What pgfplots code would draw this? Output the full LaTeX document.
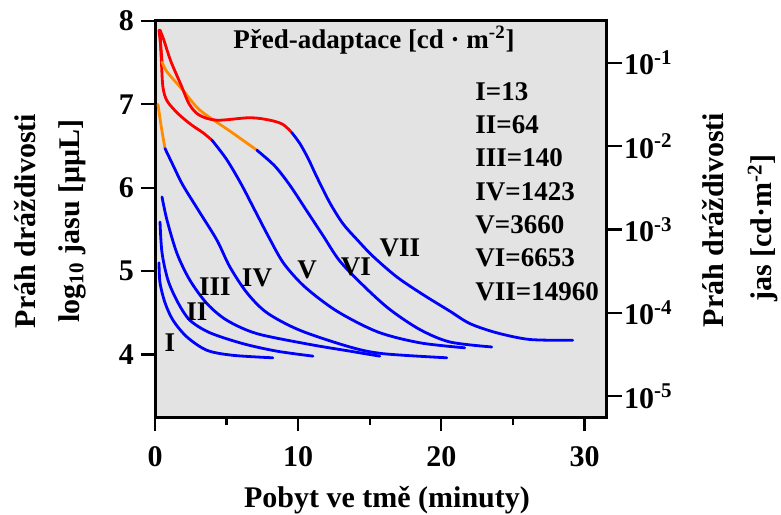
\documentclass[border=0pt]{standalone}
\usepackage{fontspec}
\setmainfont{Liberation Serif}
\usepackage{pgfplots}
\pgfplotsset{compat=1.18}
\definecolor{bg}{RGB}{227,227,227}
\definecolor{cblue}{RGB}{0,0,255}
\definecolor{cred}{RGB}{255,0,0}
\definecolor{corange}{RGB}{255,140,0}
\newcommand{\fs}{\fontsize{13.5}{16}\selectfont\bfseries}
\newcommand{\fl}{\fontsize{15}{18}\selectfont\bfseries}
\begin{document}
\begin{tikzpicture}
\useasboundingbox (-77.5pt,-48.5pt) rectangle (313pt,208.5pt);
\begin{axis}[
 at={(0pt,0pt)}, anchor=south west,
 scale only axis, width=225.5pt, height=198pt,
 xmin=0, xmax=31.5, ymin=3.25, ymax=8,
 axis background/.style={fill=bg},
 axis line style={line width=1.5pt},
 xtick={0,10,20,30}, minor xtick={5,15,25},
 ytick={4,5,6,7,8},
 xtick pos=lower, ytick pos=left,
 tick align=outside,
 major tick length=7pt, minor tick length=4pt,
 every tick/.style={line width=1.1pt, black},
 tick label style={font=\fl},
 xticklabel style={yshift=-4pt},
 /pgf/number format/assume math mode=true,
 every axis plot/.append style={line width=1.4pt, smooth, line join=round, line cap=round},
]
% I
\addplot[cblue] coordinates {(0.28,5.10) (0.35,4.86) (0.70,4.62) (1.26,4.41) (2.23,4.21) (3.63,4.05) (5.44,3.99) (8.23,3.96)};
% II
\addplot[cblue] coordinates {(0.35,5.59) (0.49,5.22) (0.91,4.89) (1.61,4.62) (2.44,4.41) (3.84,4.26) (6.14,4.13) (8.5,4.04) (11.03,3.98)};
% III
\addplot[cblue] coordinates {(0.49,5.89) (0.84,5.61) (1.54,5.21) (2.44,4.89) (3.63,4.61) (5.02,4.41) (7.12,4.25) (10.82,4.12) (13.61,4.04) (15.70,3.98)};
% IV
\addplot[corange] coordinates {(0.21,7.0) (0.42,6.75) (0.70,6.47)};
\addplot[cblue] coordinates {(0.70,6.47) (1.26,6.27) (1.95,6.03) (3.14,5.70) (4.33,5.37) (5.23,5.05) (6.42,4.74) (7.82,4.50) (10.12,4.29) (13.61,4.09) (15.91,4.01) (20.38,3.96)};
% V
\addplot[cred] coordinates {(0.35,7.89) (0.45,7.5) (0.56,7.2) (0.85,7.04) (1.6,6.89) (2.5,6.76) (3.35,6.66) (3.98,6.57)};
\addplot[cblue] coordinates {(3.98,6.57) (5.0,6.34) (6.0,6.05) (7.0,5.72) (8.0,5.39) (9.0,5.09) (10.47,4.81) (12.70,4.52) (15.56,4.27) (18.5,4.14) (21.63,4.08)};
% VI
\addplot[cred] coordinates {(0.28,7.89) (0.40,7.7) (0.49,7.51)};
\addplot[corange] coordinates {(0.49,7.51) (0.84,7.39) (1.95,7.17) (3.14,6.93) (5.23,6.68) (7.12,6.45)};
\addplot[cblue] coordinates {(7.12,6.45) (8.37,6.26) (9.42,6.03) (10.61,5.72) (11.72,5.43) (12.91,5.12) (14.65,4.81) (16.40,4.54) (18.49,4.30) (20.59,4.15) (23.52,4.09)};
% VII
\addplot[cred] coordinates {(0.35,7.89) (0.6,7.78) (1.1,7.52) (1.8,7.24) (2.4,7.0) (3.1,6.87) (4.33,6.81) (6.63,6.84) (8.03,6.81) (8.93,6.76) (9.56,6.66)};
\addplot[cblue] coordinates {(9.56,6.66) (10.12,6.53) (10.7,6.35) (11.3,6.13) (12.21,5.82) (13.12,5.57) (14.10,5.38) (15.21,5.18) (16.89,4.93) (18.70,4.72) (20.59,4.52) (22.0,4.37) (23.87,4.26) (26.17,4.18) (29.17,4.17)};
\end{axis}
\begin{axis}[
 at={(0pt,0pt)}, anchor=south west,
 scale only axis, width=225.5pt, height=198pt,
 xmin=0, xmax=31.5, ymin=-5.25, ymax=-0.5,
 hide x axis, axis y line*=right,
 axis line style={line width=1.5pt},
 ytick={-5,-4,-3,-2,-1},
 yticklabels={10\textsuperscript{-5},10\textsuperscript{-4},10\textsuperscript{-3},10\textsuperscript{-2},10\textsuperscript{-1}},
 tick align=outside, major tick length=8pt,
 every tick/.style={line width=1.1pt, black},
 tick label style={font=\fl},
 yticklabel style={xshift=-2.5pt},
]
\end{axis}
\begin{scope}[every node/.style={font=\fs, inner sep=0pt}]
\node at (7.5pt,37pt) {I};
\node at (21pt,52.5pt) {II};
\node at (30pt,65pt) {III};
\node at (51pt,69.5pt) {IV};
\node at (76pt,73.5pt) {V};
\node at (100.5pt,75pt) {VI};
\node at (122.5pt,84.5pt) {VII};
\node at (109.5pt,188.5pt) {Před-adaptace [cd · m\textsuperscript{-2}]};
\node[anchor=west] at (160pt,162.5pt) {I=13};
\node[anchor=west] at (160pt,146pt) {II=64};
\node[anchor=west] at (160pt,129.5pt) {III=140};
\node[anchor=west] at (160pt,112.5pt) {IV=1423};
\node[anchor=west] at (160pt,96pt) {V=3660};
\node[anchor=west] at (160pt,79.5pt) {VI=6653};
\node[anchor=west] at (160pt,62.5pt) {VII=14960};
\node[font=\fl, rotate=90] at (-65pt,98pt) {Práh dráždivosti};
\node[font=\fl, rotate=90] at (-41.5pt,98pt) {log\textsubscript{10} jasu [μμL]};
\node[font=\fl, rotate=90] at (279pt,98.5pt) {Práh dráždivosti};
\node[font=\fl, rotate=90] at (304pt,94.5pt) {jas [cd·m\textsuperscript{-2}]};
\node[font=\fl] at (116pt,-41.5pt) {Pobyt ve tmě (minuty)};
\end{scope}
\end{tikzpicture}
\end{document}
